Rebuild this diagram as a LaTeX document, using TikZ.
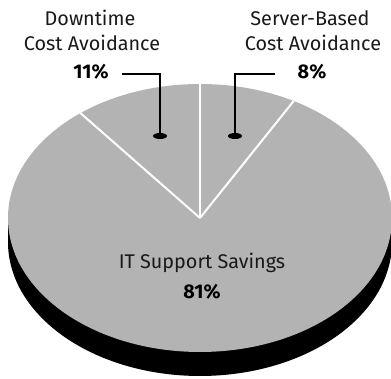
\documentclass[tikz,border=0pt]{standalone}
\usepackage{fontspec}
\setmainfont{Fira Sans}
\usetikzlibrary{shapes.geometric}
\definecolor{piegray}{RGB}{179,179,179}
\begin{document}
\begin{tikzpicture}[x=1pt,y=1pt,
  lbl/.style={font=\fontsize{19.8}{22}\selectfont, inner sep=0pt, text=black!90},
  pct/.style={font=\fontsize{19.8}{22}\selectfont\bfseries, inner sep=0pt},
  divider/.style={white, line width=2pt},
  leader/.style={black, line width=1.4pt},
  pinhead/.style={ellipse, fill=black, minimum width=14pt, minimum height=6pt, inner sep=0pt}]
\useasboundingbox (0,0) rectangle (391,379);
% side
\fill[black] (8,161) -- (8,137) arc[start angle=180, end angle=360, x radius=192, y radius=134] -- (392,161) -- cycle;
% top
\fill[piegray] (200,161) ellipse[x radius=192, y radius=134];
\coordinate (C) at (200,161);
\draw[divider] (C) -- ({200+192*cos(90)},{161+134*sin(90)});
\draw[divider] (C) -- ({200+192*cos(128.5)},{161+134*sin(128.5)});
\draw[divider] (C) -- ({200+192*cos(60.8)},{161+134*sin(60.8)});
% dots
\node[pinhead] (d1) at (160,243) {};
\node[pinhead] (d2) at (235,243) {};
% labels
\node[lbl] (t1a) at (90,361) {Downtime};
\node[lbl] (t1b) at (92,336) {Cost Avoidance};
\node[pct] (p1) at (91,307) {11\%};
\node[lbl] (t2a) at (310,361) {Server-Based};
\node[lbl] (t2b) at (313,336) {Cost Avoidance};
\node[pct] (p2) at (312,307) {8\%};
\node[lbl] (t3a) at (202,116) {IT Support Savings};
\node[pct] (p3) at (202,87) {81\%};
% leaders
\coordinate (e1) at (122,305);
\coordinate (e2) at (275,305);
\draw[leader] (d1.center) |- (e1);
\draw[leader] (d2.center) |- (e2);
\end{tikzpicture}
\end{document}
